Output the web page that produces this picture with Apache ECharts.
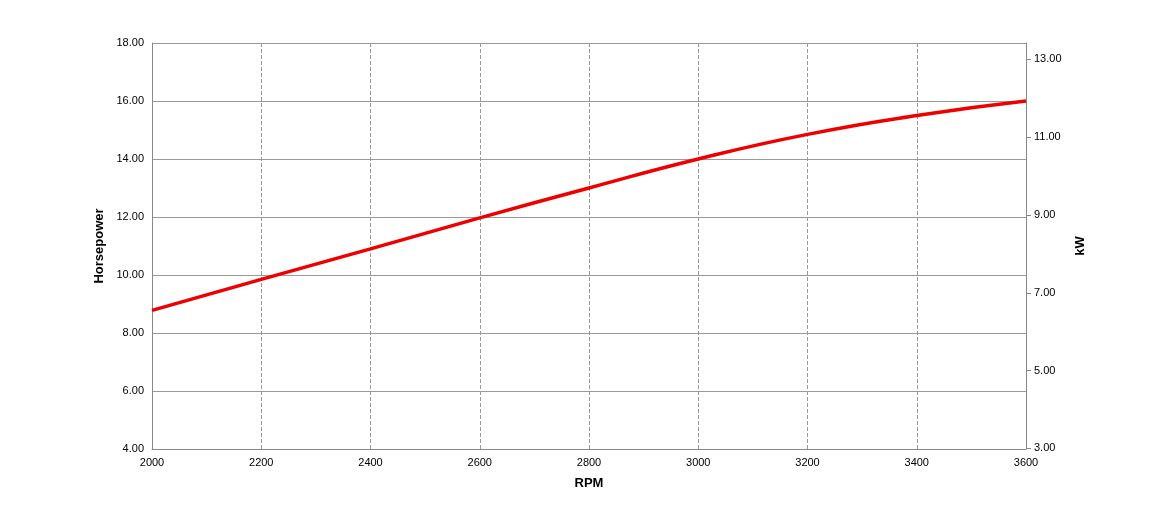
<!DOCTYPE html>
<html>
<head>
<meta charset="utf-8">
<script src="https://cdn.jsdelivr.net/npm/echarts@6/dist/echarts.min.js"></script>
<style>html,body{margin:0;background:#fff}#chart{width:1170px;height:524px}</style>
</head>
<body>
<div id="chart"></div>
<script>
const rpm = [2000, 2200, 2400, 2600, 2800, 3000, 3200, 3400, 3600];
const horsepower = [8.78, 9.85, 10.9, 11.97, 13.0, 14.0, 14.85, 15.5, 16.0];
const kwTicks = [3, 5, 7, 9, 11, 13];
const HP_TO_KW = 0.7457;

const chart = echarts.init(document.getElementById('chart'));
const font = 'Liberation Sans, Arial, sans-serif';
chart.setOption({
  animation: false,
  grid: { left: 152, right: 144, top: 43, bottom: 75 },
  xAxis: {
    type: 'value', min: 2000, max: 3600, interval: 200,
    name: 'RPM', nameLocation: 'middle', nameGap: 28,
    nameTextStyle: { fontWeight: 'bold', fontSize: 13, color: '#000', fontFamily: font },
    axisLine: { lineStyle: { color: '#888' } },
    axisTick: { show: false },
    axisLabel: { color: '#000', fontSize: 11, fontFamily: font, formatter: v => String(v) },
    splitLine: { lineStyle: { color: '#999', type: 'dashed' } }
  },
  yAxis: [{
    type: 'value', min: 4, max: 18, interval: 2,
    name: 'Horsepower', nameLocation: 'middle', nameGap: 44,
    nameTextStyle: { fontWeight: 'bold', fontSize: 13, color: '#000', fontFamily: font },
    axisLine: { show: true, lineStyle: { color: '#888' } },
    axisTick: { show: false },
    axisLabel: { color: '#000', fontSize: 11, fontFamily: font, formatter: v => v.toFixed(2) },
    splitLine: { lineStyle: { color: '#999' } }
  }, {
    type: 'value', min: 4 * HP_TO_KW, max: 18 * HP_TO_KW, position: 'right',
    name: 'kW', nameLocation: 'middle', nameGap: 48, nameRotate: 90,
    nameTextStyle: { fontWeight: 'bold', fontSize: 13, color: '#000', fontFamily: font },
    axisLine: { show: true, lineStyle: { color: '#888' } },
    axisTick: { show: true, customValues: kwTicks, length: 5, lineStyle: { color: '#888' } },
    axisLabel: { color: '#000', fontSize: 11, fontFamily: font, customValues: kwTicks, formatter: v => v.toFixed(2) },
    splitLine: { show: false }
  }],
  series: [{
    type: 'line', smooth: true, symbol: 'none',
    data: rpm.map((r, i) => [r, horsepower[i]]),
    lineStyle: { color: '#ee0000', width: 3.5 }
  }]
});
</script>
</body>
</html>
